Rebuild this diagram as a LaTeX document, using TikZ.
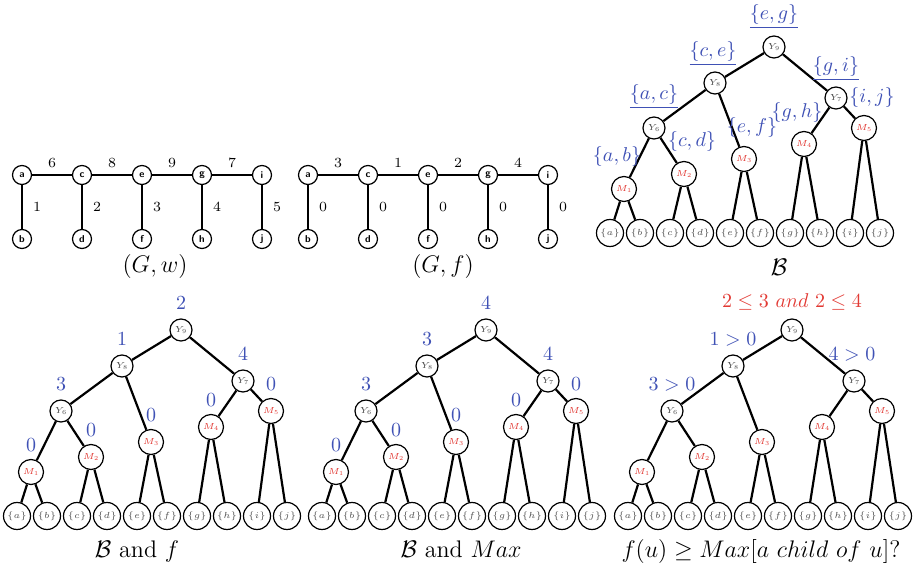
\RequirePackage{fix-cm}
\documentclass[tikz,border=0pt]{standalone}
\usepackage{amsmath}
\usepackage{amssymb}
\usetikzlibrary{positioning}

\definecolor{labblue}{RGB}{63,81,181}
\definecolor{labred}{RGB}{226,58,52}

% merge tree: #1 name prefix, #2 x of leaf {a}, #3 y of root
\newcommand{\mergetree}[3]{%
  \begin{scope}[shift={(#2,#3)}]
    \node[ynode] (#1y9) at (164,0) {$Y_9$};
    \node[ynode] (#1y8) at (105,36) {$Y_8$};
    \node[ynode] (#1y7) at (226,51) {$Y_7$};
    \node[ynode] (#1y6) at (44,81) {$Y_6$};
    \node[mnode] (#1m5) at (254,81) {$M_5$};
    \node[mnode] (#1m4) at (194,97) {$M_4$};
    \node[mnode] (#1m3) at (134,112) {$M_3$};
    \node[mnode] (#1m2) at (74,127) {$M_2$};
    \node[mnode] (#1m1) at (14,142) {$M_1$};
    \foreach \v [count=\k from 0] in {a,b,c,d,e,f,g,h,i,j}
      \node[leaf] (#1\v) at (30*\k,186) {$\{\v\}$};
    \foreach \p/\c in {y9/y8,y9/y7,y8/y6,y8/m3,y7/m4,y7/m5,y6/m1,y6/m2,
                       m1/a,m1/b,m2/c,m2/d,m3/e,m3/f,m4/g,m4/h,m5/i,m5/j}
      \draw[tedge] (#1\p) -- (#1\c);
  \end{scope}
}

\begin{document}
\begin{tikzpicture}[
    x=0.5pt, y=-0.5pt,
    gnode/.style={draw, circle, line width=0.6pt, minimum size=9.5pt, inner sep=0pt, font=\tiny\sffamily\bfseries},
    gedge/.style={line width=1.1pt},
    wt/.style={font=\scriptsize, inner sep=1pt},
    ynode/.style={draw, circle, fill=white, line width=0.6pt, minimum size=11pt, inner sep=0pt,
                  font=\fontsize{4.4}{5}\selectfont, text=black!70},
    mnode/.style={ynode, minimum size=12.5pt, text=labred},
    leaf/.style={ynode, minimum size=13.5pt},
    tedge/.style={line width=1.1pt},
    val/.style={font=\normalsize, text=labblue, anchor=base, inner sep=0pt},
    captxt/.style={font=\large, anchor=base, inner sep=0pt}
]
\useasboundingbox (0,0) rectangle (917,571);

% (G,w)
\foreach \t/\b [count=\k from 0] in {a/b,c/d,e/f,g/h,i/j} {
  \node[gnode] (gw-\t) at (22+60*\k,175) {\t};
  \node[gnode] (gw-\b) at (22+60*\k,239) {\b};
}
\draw[gedge] (gw-a) -- node[wt, above=2pt] (gw-ac) {6} (gw-c);
\draw[gedge] (gw-c) -- node[wt, above=2pt] (gw-ce) {8} (gw-e);
\draw[gedge] (gw-e) -- node[wt, above=2pt] (gw-eg) {9} (gw-g);
\draw[gedge] (gw-g) -- node[wt, above=2pt] (gw-gi) {7} (gw-i);
\draw[gedge] (gw-a) -- node[wt, right=4pt] (gw-ab) {1} (gw-b);
\draw[gedge] (gw-c) -- node[wt, right=4pt] (gw-cd) {2} (gw-d);
\draw[gedge] (gw-e) -- node[wt, right=4pt] (gw-ef) {3} (gw-f);
\draw[gedge] (gw-g) -- node[wt, right=4pt] (gw-gh) {4} (gw-h);
\draw[gedge] (gw-i) -- node[wt, right=4pt] (gw-ij) {5} (gw-j);
\node[captxt] (capgw) at (155,273) {$(G,w)$};

% (G,f)
\foreach \t/\b [count=\k from 0] in {a/b,c/d,e/f,g/h,i/j} {
  \node[gnode] (gf-\t) at (308+60*\k,175) {\t};
  \node[gnode] (gf-\b) at (308+60*\k,239) {\b};
}
\draw[gedge] (gf-a) -- node[wt, above=2pt] (gf-ac) {3} (gf-c);
\draw[gedge] (gf-c) -- node[wt, above=2pt] (gf-ce) {1} (gf-e);
\draw[gedge] (gf-e) -- node[wt, above=2pt] (gf-eg) {2} (gf-g);
\draw[gedge] (gf-g) -- node[wt, above=2pt] (gf-gi) {4} (gf-i);
\draw[gedge] (gf-a) -- node[wt, right=4pt] (gf-ab) {0} (gf-b);
\draw[gedge] (gf-c) -- node[wt, right=4pt] (gf-cd) {0} (gf-d);
\draw[gedge] (gf-e) -- node[wt, right=4pt] (gf-ef) {0} (gf-f);
\draw[gedge] (gf-g) -- node[wt, right=4pt] (gf-gh) {0} (gf-h);
\draw[gedge] (gf-i) -- node[wt, right=4pt] (gf-ij) {0} (gf-j);
\node[captxt] (capgf) at (443,273) {$(G,f)$};

% B
\mergetree{b-}{610}{47}
\node[val] (b-l9) at ([yshift=13.5pt]b-y9) {$\underline{\{e,g\}}$};
\node[val] (b-l8) at ([yshift=13pt,xshift=-1pt]b-y8) {$\underline{\{c,e\}}$};
\node[val] (b-l7) at ([yshift=13pt]b-y7) {$\underline{\{g,i\}}$};
\node[val] (b-l6) at ([yshift=14pt]b-y6) {$\underline{\{a,c\}}$};
\node[val] (b-l5) at ([yshift=12.5pt,xshift=4pt]b-m5) {$\{i,j\}$};
\node[val] (b-l4) at ([yshift=13pt,xshift=-3.5pt]b-m4) {$\{g,h\}$};
\node[val] (b-l3) at ([yshift=13pt,xshift=4pt]b-m3) {$\{e,f\}$};
\node[val] (b-l2) at ([yshift=13.5pt,xshift=4pt]b-m2) {$\{c,d\}$};
\node[val] (b-l1) at ([yshift=13.5pt,xshift=-3.5pt]b-m1) {$\{a,b\}$};
\node[captxt] (capb) at (779,276) {$\mathcal{B}$};

% B and f
\mergetree{bf-}{17}{330}
\node[val] (bf-l9) at ([yshift=10pt]bf-y9) {2};
\node[val] (bf-l8) at ([yshift=10pt]bf-y8) {1};
\node[val] (bf-l7) at ([yshift=10pt]bf-y7) {4};
\node[val] (bf-l6) at ([yshift=10pt]bf-y6) {3};
\node[val] (bf-l5) at ([yshift=10pt]bf-m5) {0};
\node[val] (bf-l4) at ([yshift=10pt]bf-m4) {0};
\node[val] (bf-l3) at ([yshift=10pt]bf-m3) {0};
\node[val] (bf-l2) at ([yshift=10pt]bf-m2) {0};
\node[val] (bf-l1) at ([yshift=10pt]bf-m1) {0};
\node[captxt] (capbf) at (137,558) {$\mathcal{B}$ and $f$};

% B and Max
\mergetree{bm-}{322}{330}
\node[val] (bm-l9) at ([yshift=10pt]bm-y9) {4};
\node[val] (bm-l8) at ([yshift=10pt]bm-y8) {3};
\node[val] (bm-l7) at ([yshift=10pt]bm-y7) {4};
\node[val] (bm-l6) at ([yshift=10pt]bm-y6) {3};
\node[val] (bm-l5) at ([yshift=10pt]bm-m5) {0};
\node[val] (bm-l4) at ([yshift=10pt]bm-m4) {0};
\node[val] (bm-l3) at ([yshift=10pt]bm-m3) {0};
\node[val] (bm-l2) at ([yshift=10pt]bm-m2) {0};
\node[val] (bm-l1) at ([yshift=10pt]bm-m1) {0};
\node[captxt] (capbm) at (461,558) {$\mathcal{B}$ and $Max$};

% check
\mergetree{bc-}{628}{330}
\node[val, text=labred] (bc-l9) at ([yshift=11pt]bc-y9) {$2\leq 3\ and\ 2\leq 4$};
\node[val] (bc-l8) at ([yshift=10pt]bc-y8) {$1>0$};
\node[val] (bc-l7) at ([yshift=10pt,xshift=-1pt]bc-y7) {$4>0$};
\node[val] (bc-l6) at ([yshift=10pt]bc-y6) {$3>0$};
\node[captxt] (capbc) at (761,558) {$f(u)\geq Max[a\ child\ of\ u]$?};

\end{tikzpicture}
\end{document}
